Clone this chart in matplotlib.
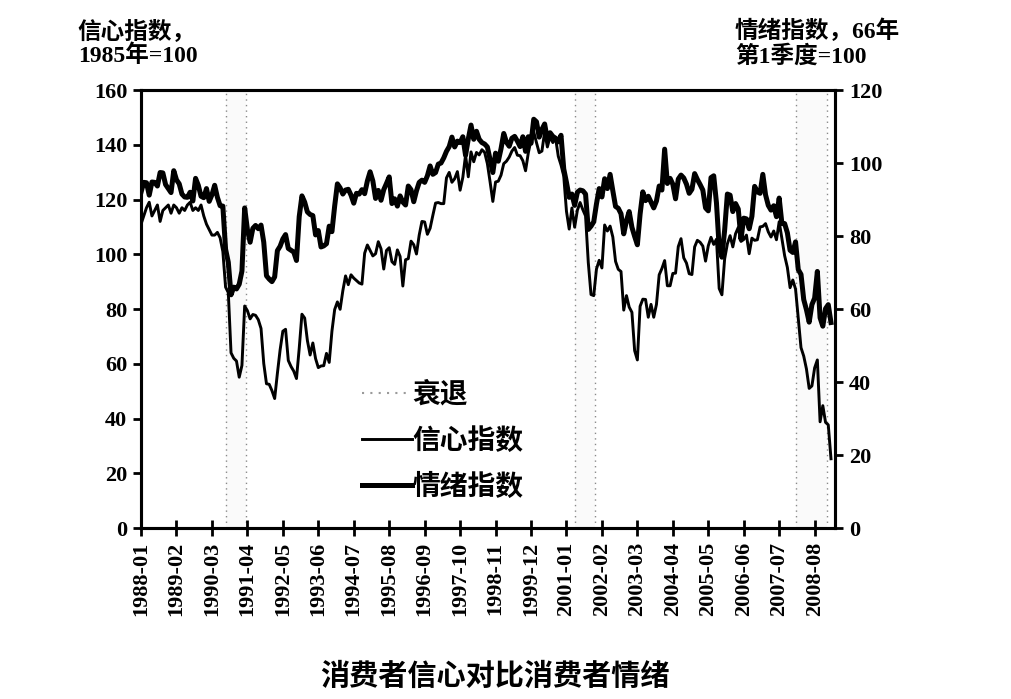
import numpy as np
import pandas as pd
import matplotlib
matplotlib.use("Agg")
import matplotlib.pyplot as plt
from matplotlib.lines import Line2D

plt.rcParams['font.family'] = ['Liberation Serif', 'Noto Sans CJK SC']
plt.rcParams['font.weight'] = 'bold'

# monthly, 1988-01 .. 2009-02
months = pd.period_range('1988-01', '2009-02', freq='M').strftime('%Y-%m').tolist()

# Conference Board confidence index (1985=100), left axis
confidence = [
    111, 114, 117, 119, 114, 116, 118, 112, 116, 117, 118, 115,  # 1988
    118, 117, 115, 117, 116, 118, 119, 116, 117, 116, 118, 114,  # 1989
    111, 109, 107, 107, 108, 106, 101, 88, 86, 64, 62, 61,       # 1990
    55.1, 59.4, 81.1, 79.4, 76.4, 78.0, 77.7, 76.1, 72.9, 60.1, 52.7, 52.5,  # 1991
    50.2, 47.3, 56.5, 65.1, 71.9, 72.6, 61.2, 59.0, 57.3, 54.6, 65.6, 78.1,  # 1992
    76.7, 68.5, 63.2, 67.6, 61.9, 58.6, 59.2, 59.3, 63.8, 60.5, 71.9, 79.8,  # 1993
    82.6, 79.9, 86.7, 92.1, 88.9, 92.5, 91.3, 90.4, 89.5, 89.1, 100.4, 103.4,  # 1994
    101.4, 99.4, 100.2, 104.6, 102.0, 94.6, 101.4, 102.4, 97.3, 96.3, 101.6, 99.2,  # 1995
    88.4, 98.0, 98.4, 104.8, 103.5, 100.1, 107.0, 112.0, 111.8, 107.3, 109.5, 114.2,  # 1996
    118.7, 118.9, 118.5, 118.5, 127.9, 129.9, 126.3, 127.6, 130.2, 123.4, 128.1, 136.2,  # 1997
    128.3, 137.4, 133.8, 137.2, 136.3, 138.2, 137.2, 133.1, 126.4, 119.3, 126.4, 126.7,  # 1998
    128.9, 133.1, 134.0, 135.5, 137.7, 139.0, 136.2, 136.0, 134.2, 130.5, 137.0, 141.7,  # 1999
    144.7, 140.8, 137.1, 137.7, 144.7, 139.2, 143.0, 140.8, 142.5, 135.8, 132.6, 128.6,  # 2000
    115.7, 109.2, 116.9, 109.9, 116.1, 118.9, 116.3, 114.0, 97.0, 85.3, 84.9, 94.6,  # 2001
    97.8, 95.0, 110.7, 108.5, 110.3, 106.3, 97.4, 94.5, 93.7, 79.6, 84.9, 80.7,  # 2002
    78.8, 64.8, 61.4, 81.0, 83.6, 83.5, 77.0, 81.7, 77.0, 81.7, 92.5, 94.8,  # 2003
    97.7, 88.5, 88.5, 93.0, 93.1, 102.8, 105.7, 98.7, 96.8, 92.9, 92.6, 102.7,  # 2004
    105.1, 104.4, 103.0, 97.5, 103.1, 106.2, 103.6, 105.5, 87.5, 85.2, 98.3, 103.8,  # 2005
    106.8, 102.7, 107.5, 109.8, 104.7, 105.4, 107.0, 100.2, 105.9, 105.1, 105.3, 110.0,  # 2006
    110.2, 111.2, 108.2, 106.3, 108.5, 105.3, 111.9, 105.6, 99.5, 95.2, 87.8, 90.6,  # 2007
    87.3, 76.4, 65.9, 62.8, 58.1, 51.0, 51.9, 58.5, 61.4, 38.8, 44.7, 38.6,  # 2008
    37.7, 25.3,  # 2009
]

# Michigan sentiment index (1966Q1=100), right axis
sentiment = [
    92.0, 94.7, 94.6, 91.2, 94.8, 94.7, 93.7, 97.4, 97.3, 94.1, 93.0, 91.9,  # 1988
    97.9, 95.4, 94.3, 91.5, 90.7, 90.6, 92.0, 89.6, 95.8, 93.9, 90.9, 90.5,  # 1989
    93.0, 89.5, 91.3, 93.9, 90.6, 88.3, 88.2, 76.4, 72.8, 63.9, 66.0, 65.5,  # 1990
    66.8, 70.4, 87.7, 81.8, 78.3, 82.1, 82.9, 82.0, 83.0, 78.3, 69.1, 68.2,  # 1991
    67.5, 68.8, 76.0, 77.2, 79.2, 80.4, 76.6, 76.1, 75.6, 73.3, 85.3, 91.0,  # 1992
    89.3, 86.6, 85.9, 85.6, 80.3, 81.5, 77.0, 77.3, 77.9, 82.7, 81.2, 88.2,  # 1993
    94.3, 93.2, 91.5, 92.6, 92.8, 91.2, 89.0, 91.7, 91.5, 92.7, 91.6, 95.1,  # 1994
    97.6, 95.1, 90.3, 92.5, 89.8, 92.7, 94.4, 96.2, 88.9, 90.2, 88.2, 91.0,  # 1995
    89.3, 88.5, 93.7, 92.7, 89.4, 92.4, 94.7, 95.3, 94.7, 96.5, 99.2, 96.9,  # 1996
    97.4, 99.7, 100.0, 101.4, 103.2, 104.5, 107.1, 104.4, 106.0, 105.6, 107.2, 102.1,  # 1997
    106.6, 110.4, 106.5, 108.7, 106.5, 105.6, 105.2, 104.4, 100.9, 97.4, 102.7, 100.5,  # 1998
    103.9, 108.1, 105.7, 104.6, 106.8, 107.3, 106.0, 104.5, 107.2, 103.2, 107.2, 105.4,  # 1999
    112.0, 111.3, 107.1, 109.2, 110.7, 106.4, 108.3, 107.3, 106.8, 105.8, 107.6, 98.4,  # 2000
    94.7, 90.6, 91.5, 88.4, 92.0, 92.6, 92.4, 91.5, 81.8, 82.7, 83.9, 88.8,  # 2001
    93.0, 90.7, 95.7, 93.0, 96.9, 92.4, 88.1, 87.6, 86.1, 80.6, 84.2, 86.7,  # 2002
    82.4, 79.9, 77.6, 86.0, 92.1, 89.7, 90.9, 89.3, 87.7, 89.6, 93.7, 92.6,  # 2003
    103.8, 94.4, 95.8, 94.2, 90.2, 95.6, 96.7, 95.9, 94.2, 91.7, 92.8, 97.1,  # 2004
    95.5, 94.1, 92.6, 87.7, 86.9, 96.0, 96.5, 89.1, 76.9, 74.2, 81.6, 91.5,  # 2005
    91.2, 86.7, 88.9, 87.4, 79.1, 84.9, 84.7, 82.0, 85.4, 93.6, 92.1, 91.7,  # 2006
    96.9, 91.3, 88.4, 87.1, 88.3, 85.3, 90.4, 83.4, 83.4, 80.9, 76.1, 75.5,  # 2007
    78.4, 70.8, 69.5, 62.6, 59.8, 56.4, 61.2, 63.0, 70.3, 57.6, 55.3, 60.1,  # 2008
    61.2, 56.3,  # 2009
]

# recession periods (first month, last month)
recessions = [('1990-07', '1991-03'), ('2001-03', '2001-11'), ('2007-12', '2008-12')]

tick_labels = months[::13]

x = np.arange(len(months))

fig = plt.figure(figsize=(10.11, 6.99), dpi=100)
ax = fig.add_axes([0.1395, 0.2446, 0.6865, 0.6266])
ax2 = ax.twinx()

for start, end in recessions:
    i0 = months.index(start) + 1
    i1 = months.index(end) + 0.5
    ax.axvspan(i0, i1, facecolor='#fafafa', edgecolor='none', zorder=0)
    for xv in (i0, i1):
        ax.axvline(xv, color='#8a8a8a', lw=1.0, ls=(0, (1, 3)), zorder=1)

ax.plot(x, confidence, color='black', lw=2.1, zorder=3)
ax2.plot(x, sentiment, color='black', lw=3.6, zorder=3)

ax.set_xlim(0, 254.5)
ax.set_ylim(0, 160)
ax2.set_ylim(0, 120)
ax.set_yticks(np.arange(0, 161, 20))
ax2.set_yticks(np.arange(0, 121, 20))
ax.set_xticks(x[::13])
ax.set_xticklabels(tick_labels, rotation=90, fontsize=16)

for a in (ax, ax2):
    for s in a.spines.values():
        s.set_linewidth(2.2)
ax.tick_params(axis='y', direction='out', length=6, width=2, labelsize=16, pad=4)
ax2.tick_params(axis='y', direction='out', length=6, width=2, labelsize=16, pad=4)
ax.tick_params(axis='x', direction='inout', length=12, width=2, pad=4)

# axis headers
fig.text(0.077, 0.972, '信心指数，\n1985年=100', fontsize=17, weight='bold',
         va='top', ha='left', linespacing=1.1)
fig.text(0.727, 0.972, '情绪指数，66年\n第1季度=100', fontsize=17, weight='bold',
         va='top', ha='left', linespacing=1.1)

handles = [
    Line2D([], [], color='#9a9a9a', lw=1.5, ls=(0, (1, 3))),
    Line2D([], [], color='black', lw=2.1),
    Line2D([], [], color='black', lw=3.6),
]
ax2.legend(handles, ['衰退', '信心指数', '情绪指数'], loc='upper left',
           bbox_to_anchor=(0.283, 0.39), frameon=False, fontsize=20,
           handlelength=1.8, handletextpad=0.0, labelspacing=0.68)

fig.text(0.49, 0.032, '消费者信心对比消费者情绪', fontsize=21, weight='bold',
         ha='center', va='center')

fig.savefig('out.png', dpi=100)
